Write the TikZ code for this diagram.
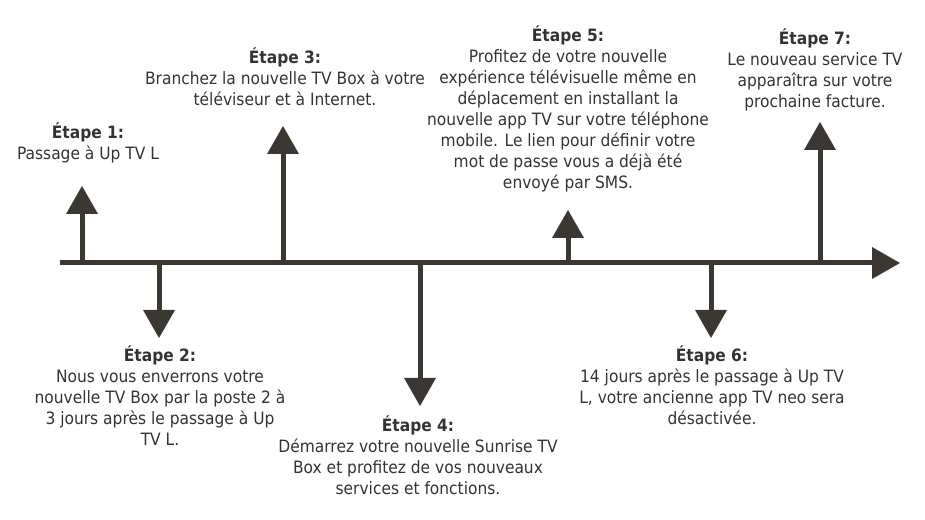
\documentclass[tikz,border=0pt]{standalone}
\usepackage{fontspec}
\setmainfont{DejaVu Sans}[FakeStretch=0.91]
\usetikzlibrary{arrows.meta}
\definecolor{ink}{HTML}{3B3733}
\definecolor{bodytext}{HTML}{333333}

\begin{document}
\begin{tikzpicture}[
  x=0.75pt, y=-0.75pt,
  font=\fontsize{12.75}{15.75}\selectfont,
  note/.style={anchor=north, align=center, inner sep=0pt, text=bodytext},
  pin/.style={line width=3.75pt, draw=ink, -{Triangle[length=21pt, width=24pt, line width=0pt]}}
]
\useasboundingbox (0,0) rectangle (925,520);

% Timeline axis
\coordinate (start) at (60,263);
\coordinate (end) at (900,263);
\draw[pin] (start) -- (end);

% Step markers on the axis
\coordinate (t1) at (82,263);  \coordinate (h1) at (82,186);
\coordinate (t2) at (159,263); \coordinate (h2) at (159,338);
\coordinate (t3) at (283,263); \coordinate (h3) at (283,126);
\coordinate (t4) at (420,263); \coordinate (h4) at (420,406);
\coordinate (t5) at (568,263); \coordinate (h5) at (568,210);
\coordinate (t6) at (711,263); \coordinate (h6) at (711,338);
\coordinate (t7) at (820,263); \coordinate (h7) at (820,122);
\draw[pin] (t1) -- (h1);
\draw[pin] (t2) -- (h2);
\draw[pin] (t3) -- (h3);
\draw[pin] (t4) -- (h4);
\draw[pin] (t5) -- (h5);
\draw[pin] (t6) -- (h6);
\draw[pin] (t7) -- (h7);

% Step texts
\node[note] (s1) at (88,122) {\textbf{Étape 1:}\\Passage à Up TV L};
\node[note] (s2) at (160,345) {\textbf{Étape 2:}\\Nous vous enverrons votre\\nouvelle TV Box par la poste 2 à\\3 jours après le passage à Up\\TV L.};
\node[note] (s3) at (285,47) {\textbf{Étape 3:}\\Branchez la nouvelle TV Box à votre\\téléviseur et à Internet.};
\node[note] (s4) at (418,415) {\textbf{Étape 4:}\\Démarrez votre nouvelle Sunrise TV\\Box et profitez de vos nouveaux\\services et fonctions.};
\node[note] (s5) at (568,25) {\textbf{Étape 5:}\\Profitez de votre nouvelle\\expérience télévisuelle même en\\déplacement en installant la\\nouvelle app TV sur votre téléphone\\mobile. Le lien pour définir votre\\mot de passe vous a déjà été\\envoyé par SMS.};
\node[note] (s6) at (712,345) {\textbf{Étape 6:}\\14 jours après le passage à Up TV\\L, votre ancienne app TV neo sera\\désactivée.};
\node[note] (s7) at (815,28) {\textbf{Étape 7:}\\Le nouveau service TV\\apparaîtra sur votre\\prochaine facture.};
\end{tikzpicture}
\end{document}
